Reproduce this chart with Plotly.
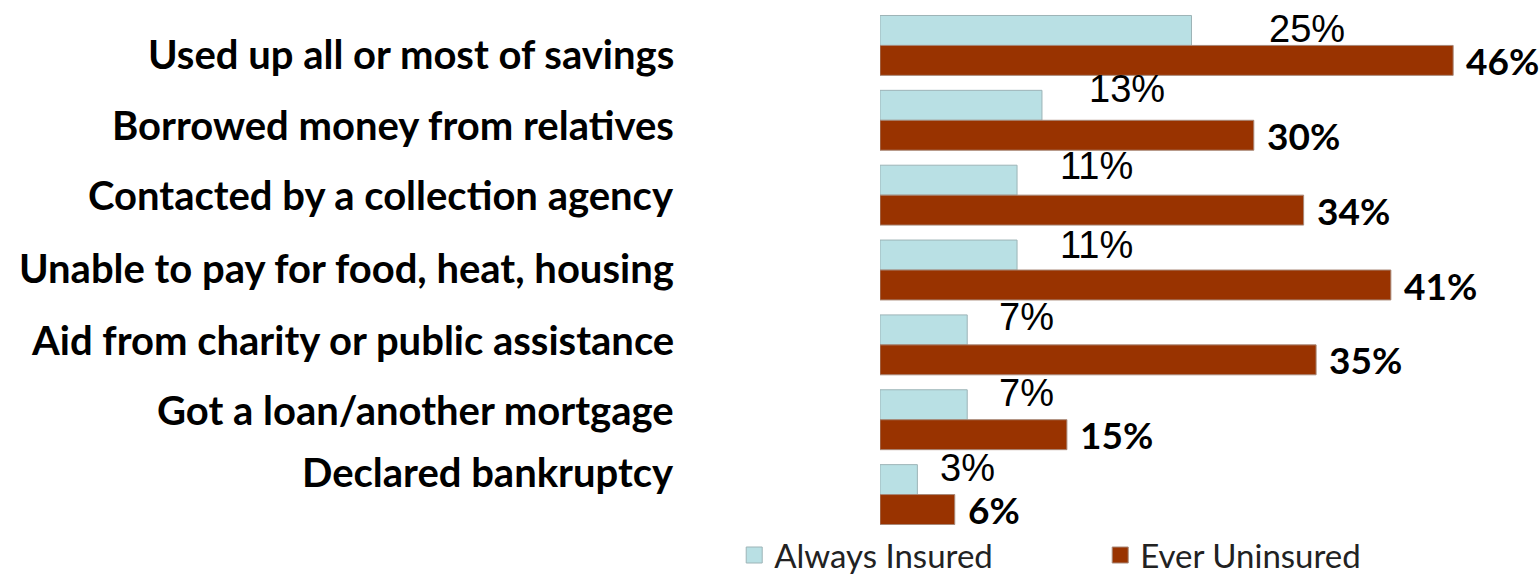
import plotly.graph_objects as go

# Survey items and shares of respondents (%)
categories = [
    "Used up all or most of savings",
    "Borrowed money from relatives",
    "Contacted by a collection agency",
    "Unable to pay for food, heat, housing",
    "Aid from charity or public assistance",
    "Got a loan/another mortgage",
    "Declared bankruptcy",
]
always_insured = [25, 13, 11, 11, 7, 7, 3]
ever_uninsured = [46, 30, 34, 41, 35, 15, 6]
series_names = ["Always Insured", "Ever Uninsured"]

# Styling / layout settings
BLUE = "#B9E0E4"
RED = "#993300"
BLUE_EDGE = "#9DB4B7"
RED_EDGE = "#A88878"
label_font = "Lato"
blue_label_xshift = [115, 85, 79, 79, 59, 59, 50]
blue_label_yshift = [16, 31, 29, 25, 28, 27, 27]
cat_label_yshift = [-9, -5, 0, 2, 5, 10, 23]

fig = go.Figure()
fig.add_trace(go.Bar(
    y=categories, x=always_insured, orientation="h", name=series_names[0],
    marker=dict(color=BLUE, line=dict(color=BLUE_EDGE, width=1)),
    showlegend=False,
))
fig.add_trace(go.Bar(
    y=categories, x=ever_uninsured, orientation="h", name=series_names[1],
    marker=dict(color=RED, line=dict(color=RED_EDGE, width=1)),
    showlegend=False,
))

# Legend entries (larger square swatches than the default bar icon)
for name, col, edge in zip(series_names, [BLUE, RED], [BLUE_EDGE, RED_EDGE]):
    fig.add_trace(go.Scatter(
        x=[None], y=[None], mode="markers", name=name, hoverinfo="skip",
        marker=dict(symbol="square", size=18, color=col, line=dict(color=edge, width=1)),
    ))

annotations = []
for i, cat in enumerate(categories):
    # category label on the left
    annotations.append(dict(
        x=0, xref="x", y=cat, yref="y", text=cat, showarrow=False,
        xanchor="right", yanchor="middle", xshift=-204, yshift=cat_label_yshift[i],
        font=dict(family=label_font, size=40, color="#000000", weight="bold"),
    ))
    # always-insured value
    annotations.append(dict(
        x=always_insured[i], xref="x", y=cat, yref="y", text=f"{always_insured[i]}%",
        showarrow=False, xanchor="center", yanchor="middle",
        xshift=blue_label_xshift[i], yshift=blue_label_yshift[i],
        font=dict(family="Liberation Sans", size=38, color="#000000"),
    ))
    # ever-uninsured value
    annotations.append(dict(
        x=ever_uninsured[i], xref="x", y=cat, yref="y", text=f"{ever_uninsured[i]}%",
        showarrow=False, xanchor="left", yanchor="middle",
        xshift=11, yshift=-15,
        font=dict(family=label_font, size=37, color="#000000", weight="bold"),
    ))

fig.update_layout(
    width=1540, height=579,
    margin=dict(l=880, r=37, t=7.5, b=46.5, pad=0, autoexpand=False),
    paper_bgcolor="white", plot_bgcolor="white",
    barmode="group", bargap=0.2, bargroupgap=0,
    xaxis=dict(range=[0, 50], autorange=False, visible=False, fixedrange=True),
    yaxis=dict(type="category", categoryorder="array", categoryarray=categories,
               range=[6.5, -0.5], autorange=False, visible=False, fixedrange=True),
    annotations=annotations,
    showlegend=True,
    legend=dict(
        orientation="h", x=-0.234, xanchor="left", y=-0.044, yanchor="middle",
        font=dict(family=label_font, size=33, color="#222222"),
        entrywidth=321, entrywidthmode="pixels", traceorder="normal",
        itemsizing="trace",
        bgcolor="rgba(0,0,0,0)", itemclick=False, itemdoubleclick=False,
    ),
)

fig.write_html("out.html")
